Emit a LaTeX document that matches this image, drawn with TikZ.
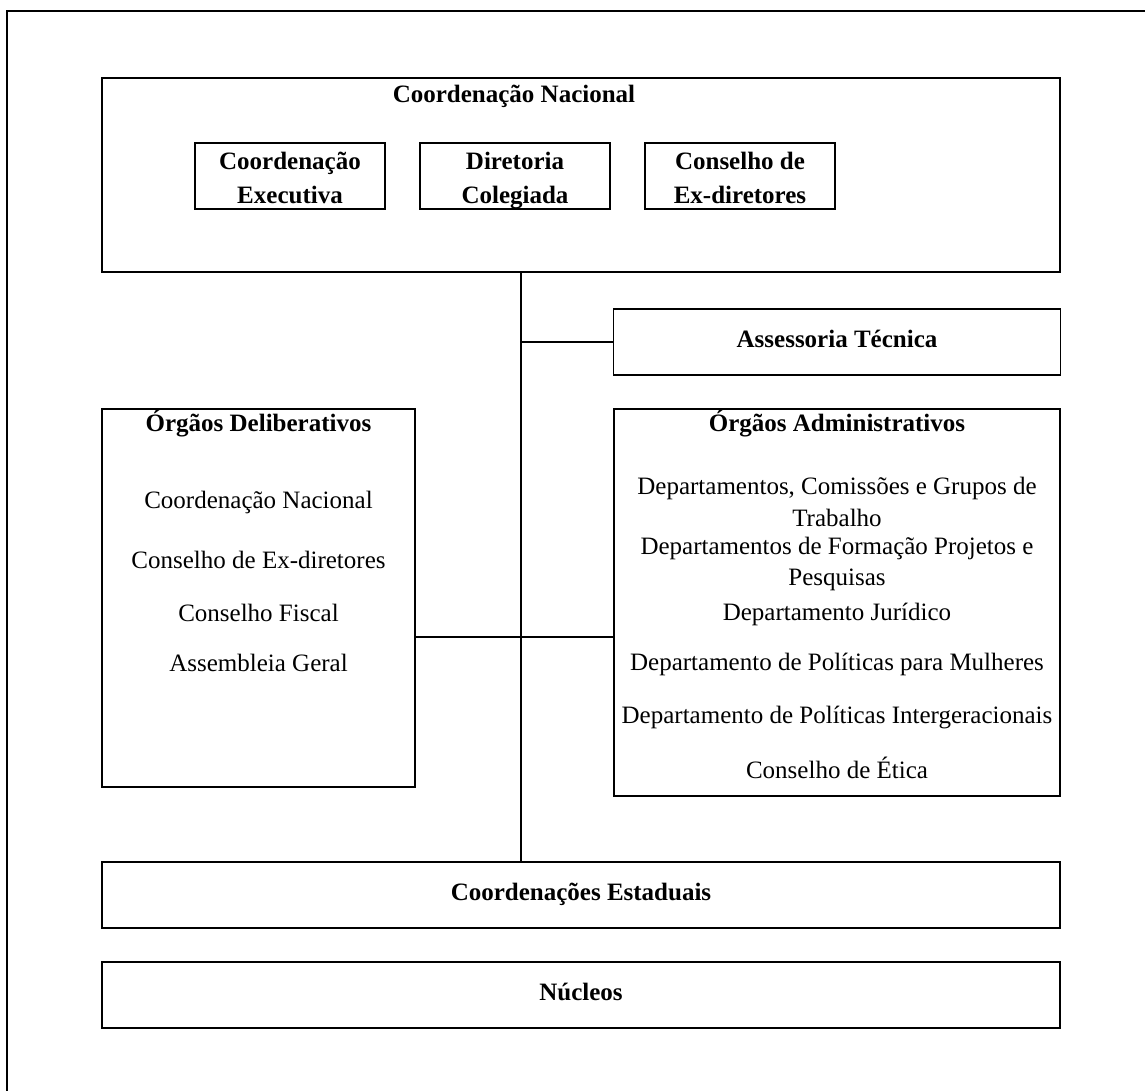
\documentclass[tikz,border=0pt]{standalone}
\usepackage{fontspec}
\setmainfont{Liberation Serif}
\usetikzlibrary{positioning}

\tikzset{
  box/.style 2 args={draw, line width=0.9pt, minimum width=#1*0.48pt, minimum height=#2*0.48pt, inner sep=0pt},
  lbl/.style={text height=0.7em, text depth=0.25em},
  hd/.style={font=\bfseries, anchor=base},
  item/.style={anchor=base},
  link/.style={line width=0.6pt},
}

\begin{document}
\fontsize{12}{15}\selectfont
\begin{tikzpicture}[x=0.48pt, y=-0.48pt]
    \clip (0,0) rectangle (1145,1090);
    % Outer frame
    \draw[line width=1.4pt] (7,1120) -- (7,11) -- (1170,11);

    % Coordenacao Nacional with its three bodies
    \node[box={958}{194}] (cn) at (581,175) {};
    \node[hd] (cntitle) at (514,103) {Coordenação Nacional};
    \foreach \nm/\x/\la/\lb in {exec/290/Coordenação/Executiva, dir/515/Diretoria/Colegiada,
        cex/740/Conselho de/Ex-diretores} {
        \node[box={190}{66}] (\nm) at (\x,176) {};
        \node[hd] (\nm a) at (\x,170) {\la};
        \node[hd] (\nm b) at (\x,203) {\lb};
    }

    % Assessoria
    \node[box={447}{66}, lbl, font=\bfseries] (at) at (837,342) {Assessoria Técnica};

    % Orgaos deliberativos
    \node[box={313}{378}] (delib) at (258.5,598) {};
    \node[hd] (delibtitle) at (258.5,431) {Órgãos Deliberativos};
    \foreach \y/\txt [count=\i] in {508/{Coordenação Nacional}, 568/{Conselho de Ex-diretores},
        621/{Conselho Fiscal}, 671/{Assembleia Geral}}
        \node[item] (delib\i) at (258.5,\y) {\txt};

    % Orgaos administrativos
    \node[box={446}{387}] (admin) at (837,602.5) {};
    \node[hd] (admintitle) at (837,431) {Órgãos Administrativos};
    \foreach \y/\txt [count=\i] in {494/{Departamentos, Comissões e Grupos de}, 526/{Trabalho},
        554/{Departamentos de Formação Projetos e}, 585/{Pesquisas},
        620/{Departamento Jurídico}, 670/{Departamento de Políticas para Mulheres},
        723/{Departamento de Políticas Intergeracionais}, 778/{Conselho de Ética}}
        \node[item] (admin\i) at (837,\y) {\txt};

    % Estaduais and nucleos
    \node[box={958}{66}, lbl, font=\bfseries] (est) at (581,895) {Coordenações Estaduais};
    \node[box={958}{66}, lbl, font=\bfseries] (nuc) at (581,995) {Núcleos};

    % Connectors
    \coordinate (tk) at (521,637);
    \draw[link] (cn.south -| tk) -- (est.north -| tk);
    \draw[link] (at.west -| tk) -- (at.west);
    \draw[link] (delib.east |- tk) -- (admin.west |- tk);
\end{tikzpicture}
\end{document}
